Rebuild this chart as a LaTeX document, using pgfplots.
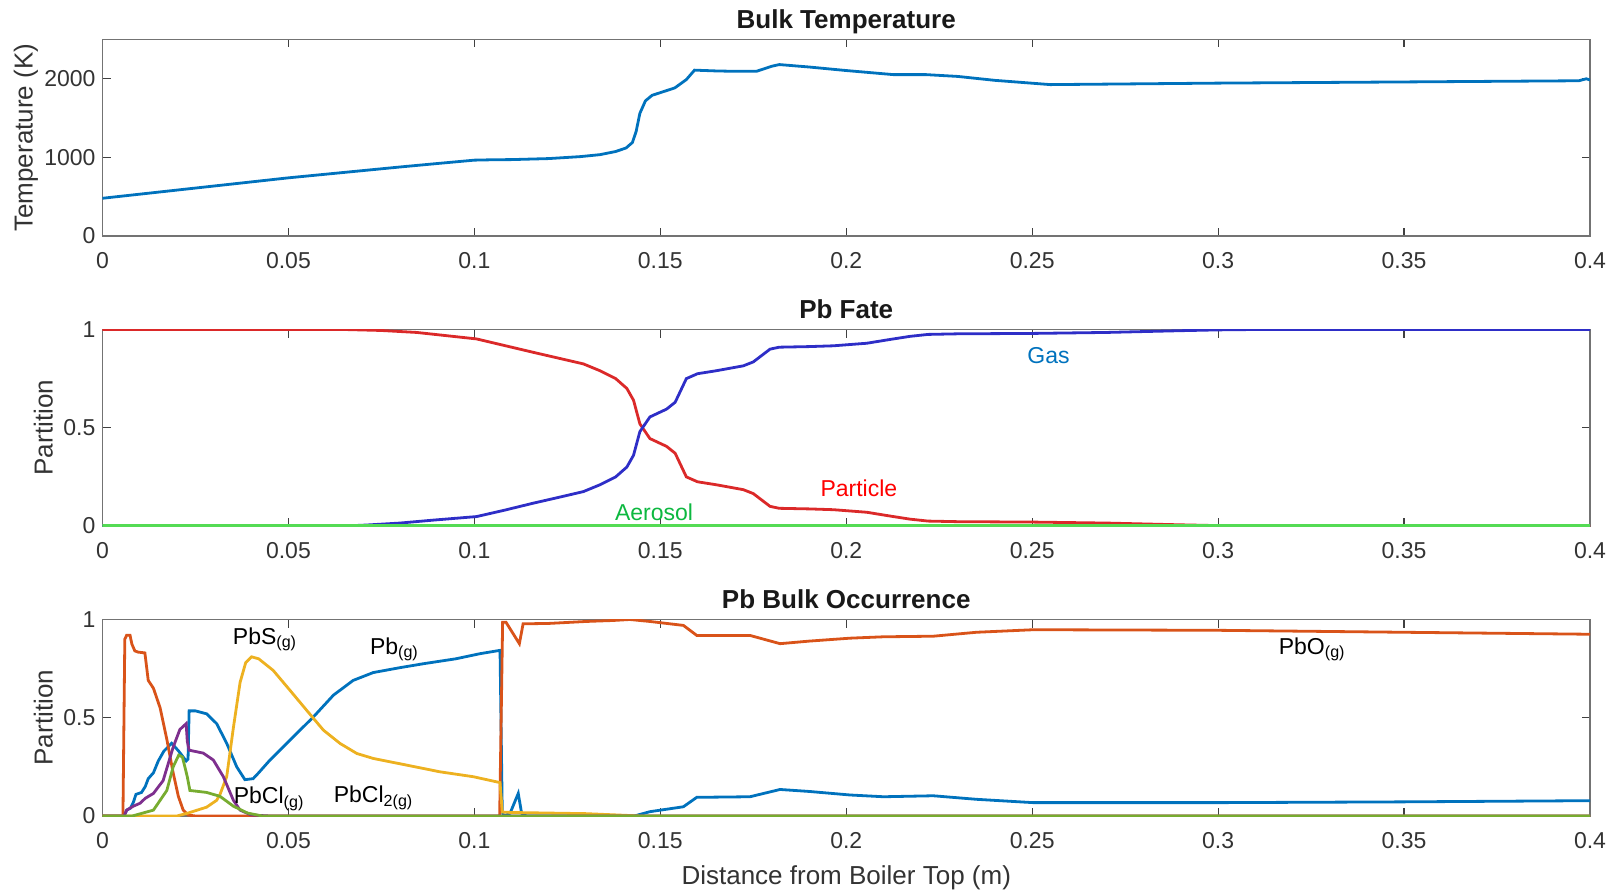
\documentclass[border=0pt]{standalone}
\usepackage{pgfplots}
\pgfplotsset{compat=1.18}
\usepackage{fontspec}
\setmainfont{Liberation Sans}
\definecolor{mblue}{rgb}{0,0.447,0.741}
\definecolor{morange}{rgb}{0.85,0.325,0.098}
\definecolor{myellow}{rgb}{0.929,0.694,0.125}
\definecolor{mpurple}{rgb}{0.494,0.184,0.556}
\definecolor{mgreen}{rgb}{0.466,0.674,0.188}
\definecolor{mdred}{rgb}{0.635,0.078,0.184}
\definecolor{gasblue}{rgb}{0.18,0.18,0.78}
\definecolor{partred}{rgb}{0.86,0.16,0.16}
\definecolor{aerogreen}{rgb}{0.33,0.86,0.33}
\definecolor{txtgreen}{rgb}{0.05,0.72,0.25}
\definecolor{txtred}{rgb}{1,0,0}
\definecolor{axgray}{rgb}{0.45,0.45,0.45}
\pgfplotsset{
  mstyle/.style={
    scale only axis, width=743.75pt, height=98.25pt,
    xmin=0, xmax=0.4,
    xtick={0,0.05,0.1,0.15,0.2,0.25,0.3,0.35,0.4},
    xticklabels={0,0.05,0.1,0.15,0.2,0.25,0.3,0.35,0.4},
    tick align=inside, major tick length=4pt,
    axis line style={axgray, line width=0.8pt},
    tick style={black!75, line width=0.6pt},
    /pgf/number format/assume math mode=true,
    ticklabel style={font=\fontsize{11.5}{13}\selectfont, text=black!80},
    xticklabel style={anchor=base, yshift=-16.4pt},
    title style={font=\bfseries\fontsize{13}{15}\selectfont, text=black!90, at={(axis description cs:0.5,1)}, anchor=base, yshift=-0.5pt},
    label style={font=\fontsize{13}{15}\selectfont, text=black!80},
    every axis plot/.append style={line width=1.4pt},
    clip=true,
  }
}
\begin{document}
\begin{tikzpicture}
\useasboundingbox (-51.25pt,-37pt) rectangle (760.25pt,408pt);
% ---------------- Top: Bulk Temperature
\begin{axis}[mstyle, at={(0pt,290pt)}, anchor=south west,
  ymin=0, ymax=2500, ytick={0,1000,2000}, yticklabels={0,1000,2000},
  title={Bulk Temperature},
  ylabel={Temperature (K)},
  ylabel style={at={(axis description cs:-0.0515,0.5)}, anchor=center}]
\addplot[mblue] coordinates {
(0,480) (0.01,532) (0.02,584) (0.03,636) (0.04,688) (0.05,740) (0.06,786) (0.07,832) (0.08,878) (0.09,922) (0.1,965)
(0.105,970) (0.11,972) (0.12,985) (0.1285,1010) (0.1338,1035) (0.138,1075) (0.1408,1120) (0.1425,1190) (0.1435,1330)
(0.1445,1560) (0.146,1720) (0.1478,1790) (0.1539,1884) (0.157,1990) (0.1592,2110) (0.165,2100) (0.17,2095) (0.1759,2096)
(0.18,2160) (0.182,2181) (0.19,2150) (0.2,2105) (0.2127,2053) (0.2215,2053) (0.23,2030) (0.24,1980) (0.2549,1926)
(0.3,1945) (0.35,1960) (0.397,1975) (0.399,2000) (0.4,1985)
};
\end{axis}
% ---------------- Middle: Pb Fate
\begin{axis}[mstyle, at={(0pt,145pt)}, anchor=south west,
  ymin=0, ymax=1, ytick={0,0.5,1}, yticklabels={0,0.5,1},
  title={Pb Fate},
  ylabel={Partition},
  ylabel style={at={(axis description cs:-0.0397,0.5)}, anchor=center}]
\addplot[partred] coordinates {
(0,1) (0.065,1) (0.075,0.995) (0.0845,0.985) (0.1006,0.952) (0.1158,0.884) (0.1293,0.825) (0.1338,0.79) (0.138,0.75)
(0.141,0.7) (0.1428,0.64) (0.1445,0.52) (0.1472,0.445) (0.1517,0.405) (0.154,0.37) (0.157,0.25) (0.16,0.225)
(0.165,0.21) (0.1723,0.185) (0.175,0.165) (0.1795,0.1) (0.182,0.09) (0.19,0.087) (0.1965,0.083) (0.2055,0.07)
(0.212,0.05) (0.2171,0.035) (0.222,0.025) (0.23,0.022) (0.25,0.02) (0.27,0.015) (0.29,0.006) (0.3,0.002) (0.31,0) (0.4,0)
};
\addplot[gasblue] coordinates {
(0,0) (0.065,0) (0.071,0.005) (0.08,0.015) (0.089,0.03) (0.1006,0.048) (0.108,0.08) (0.1158,0.116) (0.1225,0.145)
(0.1293,0.175) (0.1338,0.21) (0.138,0.25) (0.141,0.3) (0.1428,0.36) (0.1445,0.48) (0.1472,0.555) (0.1517,0.595)
(0.154,0.63) (0.157,0.75) (0.16,0.775) (0.165,0.79) (0.1723,0.815) (0.175,0.835) (0.1795,0.9) (0.182,0.91)
(0.19,0.913) (0.1965,0.917) (0.2055,0.93) (0.212,0.95) (0.2171,0.965) (0.222,0.975) (0.23,0.978) (0.25,0.98)
(0.27,0.985) (0.29,0.994) (0.3,0.998) (0.31,1) (0.4,1)
};
\addplot[aerogreen, line width=2.4pt] coordinates {(0,0) (0.4,0)};
\node[text=mblue, font=\fontsize{11.5}{13}\selectfont] at (axis cs:0.2544,0.867) {Gas};
\node[text=txtred, font=\fontsize{11.5}{13}\selectfont] at (axis cs:0.2034,0.194) {Particle};
\node[text=txtgreen, font=\fontsize{11.5}{13}\selectfont] at (axis cs:0.1483,0.07) {Aerosol};
\end{axis}
% ---------------- Bottom: Pb Bulk Occurrence
\begin{axis}[mstyle, at={(0pt,0pt)}, anchor=south west,
  ymin=0, ymax=1, ytick={0,0.5,1}, yticklabels={0,0.5,1},
  title={Pb Bulk Occurrence},
  ylabel={Partition},
  ylabel style={at={(axis description cs:-0.0397,0.5)}, anchor=center},
  xlabel={Distance from Boiler Top (m)},
  xlabel style={at={(axis description cs:0.5,0)}, anchor=base, yshift=-34pt}]
% Pb(g)
\addplot[mblue] coordinates {
(0,0) (0.0058,0) (0.0065,0.03) (0.0075,0.04) (0.0083,0.07) (0.009,0.11) (0.0105,0.12) (0.0115,0.15) (0.0123,0.19)
(0.0137,0.22) (0.015,0.28) (0.0165,0.33) (0.0186,0.37) (0.0205,0.33) (0.0225,0.28) (0.023,0.29) (0.0233,0.535)
(0.025,0.535) (0.028,0.52) (0.0307,0.47) (0.0334,0.37) (0.0361,0.25) (0.0383,0.185) (0.0405,0.19) (0.042,0.22)
(0.045,0.284) (0.0504,0.386) (0.0567,0.504) (0.0621,0.615) (0.0674,0.69) (0.0728,0.73) (0.08,0.755) (0.0863,0.775)
(0.095,0.8) (0.1015,0.826) (0.1069,0.843) (0.1075,0.02) (0.108,0) (0.1096,0.014) (0.1118,0.115) (0.1127,0.014)
(0.114,0) (0.143,0) (0.1472,0.022) (0.1562,0.047) (0.1598,0.095) (0.1741,0.098) (0.1822,0.135) (0.19,0.125)
(0.201,0.107) (0.21,0.098) (0.2234,0.103) (0.235,0.085) (0.2503,0.068) (0.3,0.068) (0.35,0.072) (0.4,0.078)
};
% PbO(g)
\addplot[morange] coordinates {
(0,0) (0.0055,0) (0.006,0.9) (0.0065,0.92) (0.0074,0.92) (0.0079,0.875) (0.0087,0.84) (0.0096,0.834) (0.0114,0.83)
(0.0123,0.69) (0.0137,0.65) (0.0155,0.55) (0.0173,0.39) (0.019,0.22) (0.0204,0.1) (0.0217,0.03) (0.023,0.005)
(0.025,0) (0.1068,0) (0.1076,0.986) (0.1085,0.986) (0.1121,0.877) (0.1131,0.978) (0.12,0.98) (0.13,0.99)
(0.1373,0.995) (0.1418,1.0) (0.1472,0.99) (0.1562,0.97) (0.1598,0.919) (0.1741,0.919) (0.1822,0.877) (0.19,0.89)
(0.201,0.905) (0.21,0.912) (0.2234,0.915) (0.235,0.935) (0.2503,0.948) (0.3,0.945) (0.35,0.935) (0.4,0.925)
};
% PbS(g)
\addplot[myellow] coordinates {
(0,0) (0.02,0) (0.023,0.015) (0.028,0.045) (0.0307,0.08) (0.0316,0.11) (0.0334,0.2) (0.0352,0.45) (0.037,0.68)
(0.0385,0.78) (0.0401,0.81) (0.042,0.8) (0.0459,0.741) (0.0504,0.64) (0.0549,0.538) (0.0594,0.437) (0.0639,0.369)
(0.0684,0.318) (0.0728,0.293) (0.0818,0.259) (0.0907,0.225) (0.0997,0.2) (0.1069,0.17) (0.1075,0.02) (0.11,0.018)
(0.13,0.012) (0.14,0.004) (0.145,0) (0.4,0)
};
% PbCl(g)
\addplot[mpurple] coordinates {
(0,0) (0.0058,0) (0.0065,0.03) (0.0083,0.05) (0.0101,0.065) (0.0115,0.09) (0.0137,0.115) (0.0163,0.18) (0.019,0.35)
(0.0208,0.44) (0.0225,0.47) (0.0228,0.38) (0.0233,0.335) (0.0271,0.32) (0.0298,0.285) (0.0325,0.2) (0.0352,0.08)
(0.037,0.03) (0.04,0.005) (0.045,0) (0.4,0)
};
% PbCl2(g)
\addplot[mgreen] coordinates {
(0,0) (0.008,0) (0.0137,0.03) (0.0173,0.13) (0.019,0.25) (0.0205,0.31) (0.0215,0.3) (0.0228,0.2) (0.0235,0.13)
(0.028,0.12) (0.0316,0.1) (0.0352,0.05) (0.039,0.015) (0.043,0) (0.4,0)
};
\node[font=\fontsize{11.5}{13}\selectfont] at (axis cs:0.0437,0.90) {PbS\textsubscript{(g)}};
\node[font=\fontsize{11.5}{13}\selectfont] at (axis cs:0.0785,0.848) {Pb\textsubscript{(g)}};
\node[font=\fontsize{11.5}{13}\selectfont] at (axis cs:0.0448,0.086) {PbCl\textsubscript{(g)}};
\node[font=\fontsize{11.5}{13}\selectfont] at (axis cs:0.0729,0.091) {PbCl\textsubscript{2(g)}};
\node[font=\fontsize{11.5}{13}\selectfont] at (axis cs:0.3253,0.848) {PbO\textsubscript{(g)}};
\end{axis}
\end{tikzpicture}
\end{document}
